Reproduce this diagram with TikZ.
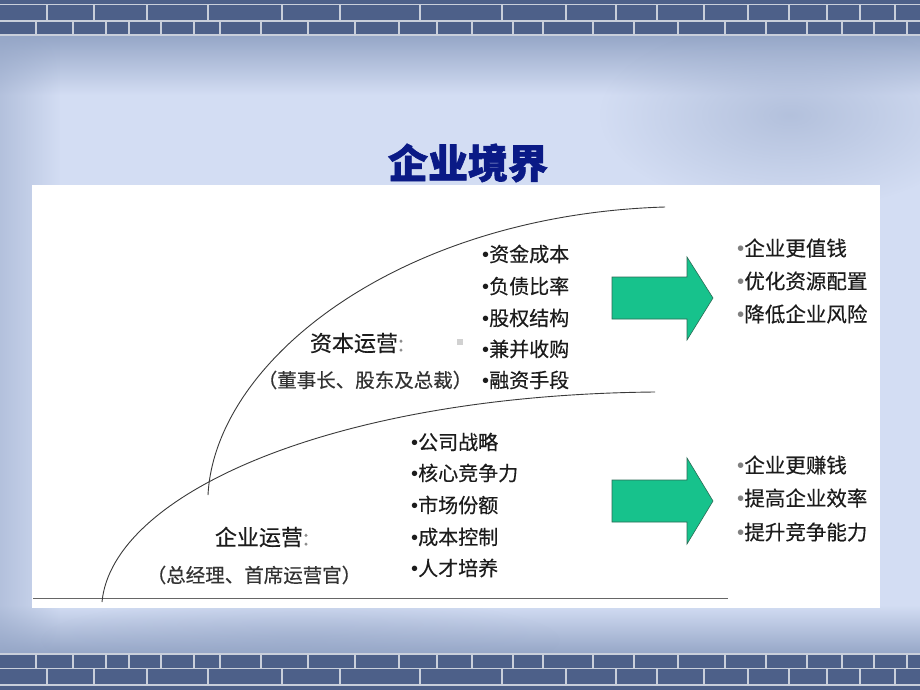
\documentclass[tikz,border=0pt]{standalone}
\usepackage{fontspec}
\usetikzlibrary{fadings}
\newfontfamily\cjk{Noto Sans CJK SC}[FakeBold=0.35]
\newfontfamily\cjkt{Noto Sans CJK SC}[BoldFeatures={FakeBold=1.6}]
\newfontfamily\lat{Liberation Sans}
\definecolor{bgc}{HTML}{D3DDF3}
\definecolor{bgdark}{HTML}{94A5C6}
\definecolor{brick}{HTML}{4D6089}
\definecolor{mortar}{HTML}{C9CFDB}
\definecolor{titleblue}{HTML}{0A1A86}
\definecolor{arrowgreen}{HTML}{17C28C}
\definecolor{arrowedge}{HTML}{2B6B55}
\definecolor{txt}{HTML}{1C1C1C}
\definecolor{curve}{HTML}{3A3A3A}
\tikzfading[name=faderight, left color=transparent!0, right color=transparent!100]
\tikzfading[name=fuzzyblob, inner color=transparent!0, outer color=transparent!100]
\begin{document}
\begin{tikzpicture}[x=1pt,y=-1pt,
  every node/.style={inner sep=0pt, font=\cjk, text=txt},
  item/.style={anchor=west, font=\cjk\fontsize{20}{24}\selectfont},
  result/.style={anchor=west, font=\cjk\fontsize{20.5}{24}\selectfont},
  label/.style={font=\cjk\fontsize{22}{26}\selectfont},
  who/.style={font=\cjk\fontsize{19.5}{24}\selectfont, text=black!80},
  curveline/.style={draw=curve, line width=0.9pt},
  bigarrow/.style={fill=arrowgreen, draw=arrowedge, line width=0.6pt},
  mortarline/.style={draw=mortar, line width=1.1pt}]
\useasboundingbox (0,0) rectangle (920,690);
% ---------- background ----------
\fill[bgc] (0,0) rectangle (920,690);
\shade[top color=bgdark, bottom color=bgc] (0,34) rectangle (920,95);
\shade[top color=bgc, bottom color=bgdark] (0,605) rectangle (920,655);
\fill[bgdark, opacity=0.5, path fading=fuzzyblob] (790,115) ellipse [x radius=190, y radius=95];
\fill[bgdark, opacity=0.35, path fading=fuzzyblob] (300,640) ellipse [x radius=260, y radius=45];
\fill[bgdark, opacity=0.5, path fading=faderight] (0,35) rectangle (60,654);
% ---------- top brick band ----------
\fill[brick] (0,0) rectangle (920,35);
\draw[mortarline] (0,4.5) -- (920,4.5);
\draw[mortarline] (0,21) -- (920,21);
\draw[mortarline] (0,35) -- (920,35);
\foreach \x in {47,94,147,208,282,340,420,502,566,616,657,704,748,789,827,860,895}
  \draw[mortarline] (\x,5) -- (\x,21);
\foreach \x in {36,73,106,129,161,194,220,261,308,355,399,437,472,513,543,593,634,678,725,766,807,842,874,907}
  \draw[mortarline] (\x,21) -- (\x,35);
% ---------- bottom brick band ----------
\fill[brick] (0,654) rectangle (920,690);
\draw[mortarline] (0,654) -- (920,654);
\draw[mortarline] (0,668.5) -- (920,668.5);
\draw[mortarline] (0,685) -- (920,685);
\foreach \x in {36,73,106,129,161,194,220,261,308,355,399,437,472,513,543,593,634,678,725,766,807,842,874,907}
  \draw[mortarline] (\x,654) -- (\x,668.5);
\foreach \x in {47,94,147,208,282,340,420,502,566,616,657,704,748,789,827,860,895}
  \draw[mortarline] (\x,668.5) -- (\x,685);
% ---------- title ----------
\node[text=titleblue, font=\cjkt\bfseries\fontsize{40}{44}\selectfont] (title) at (468,163) {企业境界};
% ---------- white panel ----------
\fill[white] (32,185) rectangle (880,608);
% ---------- curves ----------
\coordinate (baseL) at (33,598);
\coordinate (baseR) at (728,598);
\coordinate (capA) at (208,495);
\coordinate (capB) at (665,207);
\coordinate (entA) at (102,602);
\coordinate (entB) at (655,392);
\draw[draw=black!60, line width=1pt] (baseL) -- (baseR);
\draw[curveline] (capA) .. controls (215,360) and (400,215) .. (capB);
\draw[curveline] (entA) .. controls (112,495) and (330,395) .. (entB);
\fill[black!18] (457,339) rectangle (463,345);
% ---------- capital operation ----------
\node[label] (capLabel) at (357,343) {资本运营{\color{black!45}:}};
\node[who] (capWho) at (365,380) {（董事长、股东及总裁）};
\node[item] (c1) at (482,254) {{\lat •}资金成本};
\node[item] (c2) at (482,286) {{\lat •}负债比率};
\node[item] (c3) at (482,318) {{\lat •}股权结构};
\node[item] (c4) at (482,349) {{\lat •}兼并收购};
\node[item] (c5) at (482,380) {{\lat •}融资手段};
% ---------- enterprise operation ----------
\node[label] (entLabel) at (262,537) {企业运营{\color{black!45}:}};
\node[who] (entWho) at (254,575) {（总经理、首席运营官）};
\node[item] (e1) at (411,442) {{\lat •}公司战略};
\node[item] (e2) at (411,473) {{\lat •}核心竞争力};
\node[item] (e3) at (411,505) {{\lat •}市场份额};
\node[item] (e4) at (411,537) {{\lat •}成本控制};
\node[item] (e5) at (411,568) {{\lat •}人才培养};
% ---------- arrows ----------
\draw[bigarrow] (612,277) -- (687,277) -- (687,257) -- (713,298) -- (687,340) -- (687,319) -- (612,319) -- cycle;
\draw[bigarrow] (612,480) -- (687,480) -- (687,458) -- (713,501) -- (687,544) -- (687,522) -- (612,522) -- cycle;
% ---------- results ----------
\node[result] (r1) at (737,248) {{\lat\color{black!50}•}企业更值钱};
\node[result] (r2) at (737,281) {{\lat\color{black!50}•}优化资源配置};
\node[result] (r3) at (737,314) {{\lat\color{black!50}•}降低企业风险};
\node[result] (s1) at (737,465) {{\lat\color{black!50}•}企业更赚钱};
\node[result] (s2) at (737,498) {{\lat\color{black!50}•}提高企业效率};
\node[result] (s3) at (737,532) {{\lat\color{black!50}•}提升竞争能力};
\end{tikzpicture}
\end{document}
